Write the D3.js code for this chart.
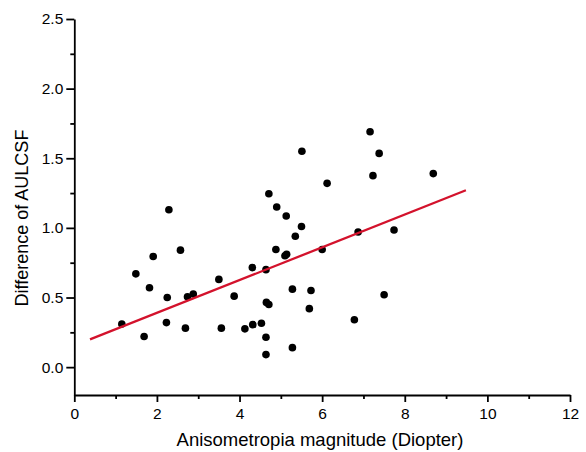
<!DOCTYPE html>
<html><head><meta charset="utf-8">
<script src="https://cdn.jsdelivr.net/npm/d3@7"></script>
<style>body{margin:0;background:#fff}svg{display:block}</style>
</head><body>
<script>
const xValues = [1.15,1.49,1.69,1.82,1.91,2.25,2.23,2.29,2.57,2.69,2.74,2.88,3.50,3.56,3.87,4.13,4.32,4.31,4.53,4.64,4.64,4.64,4.65,4.71,4.71,4.88,4.90,5.10,5.14,5.13,5.28,5.28,5.35,5.50,5.51,5.69,5.73,6.00,6.12,6.78,6.87,7.16,7.23,7.38,7.50,7.74,8.69];
const yValues = [0.31,0.67,0.22,0.57,0.795,0.50,0.32,1.13,0.84,0.28,0.505,0.525,0.63,0.28,0.51,0.275,0.305,0.715,0.315,0.215,0.09,0.70,0.465,0.45,1.245,0.845,1.15,0.80,0.81,1.085,0.14,0.56,0.94,1.01,1.55,0.42,0.55,0.845,1.32,0.34,0.97,1.69,1.375,1.535,0.52,0.985,1.39];
const fitX = [0.38, 9.48];
const fitY = [0.199, 1.27];
const xTicks = [0,2,4,6,8,10,12];
const yTicks = [0.0,0.5,1.0,1.5,2.0,2.5];
const xMinor = [1,3,5,7,9,11];
const yMinor = [0.25,0.75,1.25,1.75,2.25];

const W = 586, H = 452;
const svg = d3.select("body").append("svg").attr("width", W).attr("height", H);
const x = d3.scaleLinear().domain([0,12]).range([74.3,570]);
const y = d3.scaleLinear().domain([-0.2,2.5]).range([395,19]);
const font = "'Liberation Sans', Arial, sans-serif";

// axes
svg.append("g").attr("transform","translate(0,395)")
  .call(d3.axisBottom(x).tickValues(xTicks).tickFormat(d3.format("d")).tickSizeInner(7).tickSizeOuter(0).tickPadding(6));
svg.append("g").attr("transform","translate(74.3,0)")
  .call(d3.axisLeft(y).tickValues(yTicks).tickFormat(d3.format(".1f")).tickSizeInner(8).tickSizeOuter(0).tickPadding(3));
svg.append("g").attr("transform","translate(0,395)")
  .call(d3.axisBottom(x).tickValues(xMinor).tickFormat("").tickSizeInner(4).tickSizeOuter(0))
  .select(".domain").remove();
svg.append("g").attr("transform","translate(74.3,0)")
  .call(d3.axisLeft(y).tickValues(yMinor).tickFormat("").tickSizeInner(4).tickSizeOuter(0))
  .select(".domain").remove();
svg.selectAll(".domain, .tick line").attr("stroke","#000").attr("stroke-width",1.8);
svg.selectAll(".tick text").attr("font-family",font).attr("font-size",15.5).attr("fill","#000");

// titles
svg.append("text").attr("x",320).attr("y",446).attr("text-anchor","middle")
  .attr("font-family",font).attr("font-size",18.5).text("Anisometropia magnitude (Diopter)");
svg.append("text").attr("transform","translate(28,218) rotate(-90)").attr("text-anchor","middle")
  .attr("font-family",font).attr("font-size",18).text("Difference of AULCSF");

// points
const pts = xValues.map((v,i)=>({x:v,y:yValues[i]}));
svg.append("g").selectAll("circle").data(pts).join("circle")
  .attr("cx",d=>x(d.x)).attr("cy",d=>y(d.y)).attr("r",3.8).attr("fill","#000");

// fit line
svg.append("path").datum(fitX.map((v,i)=>[v,fitY[i]]))
  .attr("d", d3.line().x(d=>x(d[0])).y(d=>y(d[1])))
  .attr("stroke","#d3122c").attr("stroke-width",2.3).attr("fill","none");
</script>
</body></html>
